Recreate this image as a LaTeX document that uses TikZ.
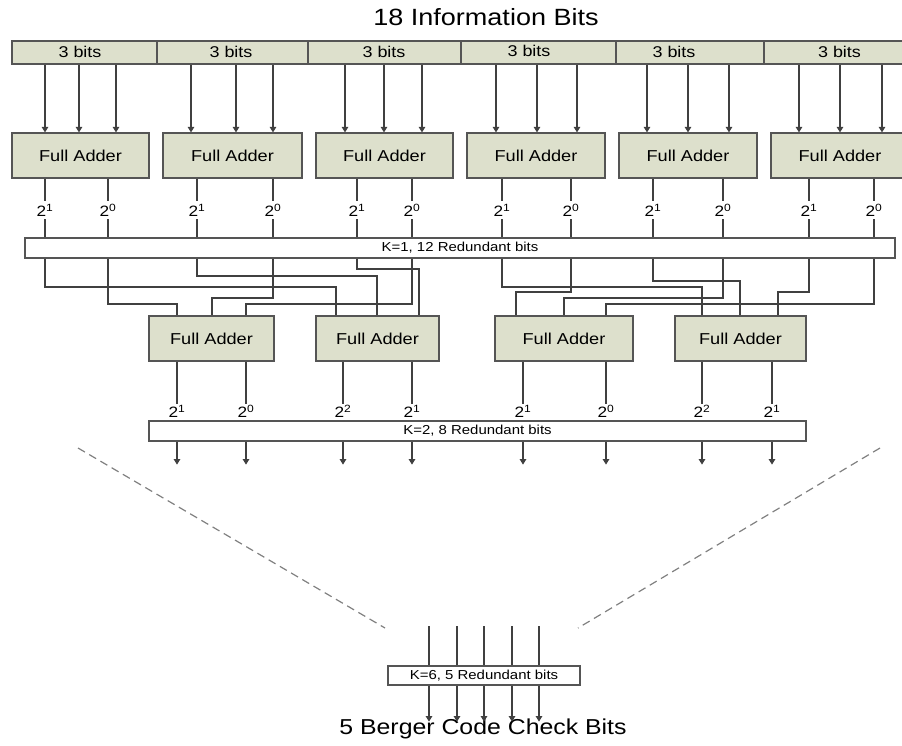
\documentclass[tikz,border=0pt]{standalone}
\usepackage{fontspec}
\setmainfont{Liberation Sans}[FakeStretch=1.15]
\usetikzlibrary{arrows.meta}
\definecolor{wirec}{HTML}{404040}
\definecolor{edgec}{HTML}{555555}
\definecolor{sage}{HTML}{DDE0CC}
\begin{document}
\begin{tikzpicture}[x=1pt,y=-1pt,
  wire/.style={draw=wirec,line width=1.2pt},
  arr/.style={wire,-{Triangle[width=6.5pt,length=5.5pt]}},
  adder/.style={draw=edgec,fill=sage,line width=1.2pt,minimum height=45pt,inner sep=0pt,
    font=\fontsize{15.8}{18}\selectfont},
  seg/.style={draw=edgec,fill=sage,line width=1.2pt,minimum height=23pt,inner sep=0pt},
  segtext/.style={inner sep=0pt,font=\fontsize{15.6}{18}\selectfont},
  bus/.style={draw=edgec,fill=white,line width=1.2pt,minimum height=20pt,inner sep=0pt,
    font=\fontsize{13}{15}\selectfont},
  weight/.style={fill=white,inner xsep=1pt,inner ysep=3pt,font=\fontsize{15}{17}\selectfont},
  guide/.style={draw=gray,line width=1.2pt,dash pattern=on 8pt off 5pt},
  title/.style={inner sep=0pt,font=\fontsize{23.5}{26}\selectfont}
]
\useasboundingbox (0,0) rectangle (902,745);

% ---- titles ----
\node[title] (top) at (486,17) {18 Information Bits};
\node[title,font=\fontsize{21.6}{26}\selectfont] (bottom) at (483,729) {5 Berger Code Check Bits};

% ---- information word split into six 3-bit groups ----
\node[seg,minimum width=145pt] (s1) at (84.5,52.5) {};
\node[seg,minimum width=151pt] (s2) at (232.5,52.5) {};
\node[seg,minimum width=153pt] (s3) at (384.5,52.5) {};
\node[seg,minimum width=155pt] (s4) at (538.5,52.5) {};
\node[seg,minimum width=148pt] (s5) at (690,52.5) {};
\node[seg,minimum width=152pt] (s6) at (840,52.5) {};
\node[segtext] (t1) at (80,52) {3 bits};
\node[segtext] (t2) at (231,52) {3 bits};
\node[segtext] (t3) at (384,52) {3 bits};
\node[segtext] (t4) at (529,51) {3 bits};
\node[segtext] (t5) at (674,52) {3 bits};
\node[segtext] (t6) at (839.5,52) {3 bits};

% ---- first level of full adders ----
\node[adder,minimum width=137pt] (fa1) at (80.5,155.5) {Full Adder};
\node[adder,minimum width=139pt] (fa2) at (232.5,155.5) {Full Adder};
\node[adder,minimum width=137pt] (fa3) at (384.5,155.5) {Full Adder};
\node[adder,minimum width=138pt] (fa4) at (536,155.5) {Full Adder};
\node[adder,minimum width=138pt] (fa5) at (688,155.5) {Full Adder};
\node[adder,minimum width=138pt] (fa6) at (840,155.5) {Full Adder};

\foreach \s/\f/\a/\b/\c in {s1/fa1/45/79/116, s2/fa2/191/236/273, s3/fa3/345/384/422,
                             s4/fa4/496/537/577, s5/fa5/647/688/729, s6/fa6/799/840/882}{
  \foreach \x in {\a,\b,\c}
    \draw[arr] (\s.south -| \x,0) -- (\f.north -| \x,0);
}

% ---- K=1 bus ----
\node[bus,minimum width=870pt] (k1) at (460,248) {K=1, 12 Redundant bits};

\foreach \f/\a/\b in {fa1/45/108, fa2/197/273, fa3/357/412, fa4/502/571, fa5/653/723, fa6/809/874}{
  \draw[wire] (\f.south -| \a,0) -- (k1.north -| \a,0);
  \draw[wire] (\f.south -| \b,0) -- (k1.north -| \b,0);
  \node[weight] (w\f a) at (\a,210) {2\textsuperscript{1}};
  \node[weight] (w\f b) at (\b,210) {2\textsuperscript{0}};
}

% ---- second level of full adders ----
\node[adder,minimum width=125pt] (g1) at (211.5,338.5) {Full Adder};
\node[adder,minimum width=123pt] (g2) at (377.5,338.5) {Full Adder};
\node[adder,minimum width=138pt] (g3) at (564,338.5) {Full Adder};
\node[adder,minimum width=131pt] (g4) at (740.5,338.5) {Full Adder};

% wiring from the K=1 bus to the second level
\draw[wire] (k1.south -| 45,0)  |- (336,287) -- (g2.north -| 336,0);
\draw[wire] (k1.south -| 108,0) |- (177,304) -- (g1.north -| 177,0);
\draw[wire] (k1.south -| 197,0) |- (377,276) -- (g2.north -| 377,0);
\draw[wire] (k1.south -| 273,0) |- (212,298) -- (g1.north -| 212,0);
\draw[wire] (k1.south -| 357,0) |- (419,269) -- (g2.north -| 419,0);
\draw[wire] (k1.south -| 412,0) |- (246,304) -- (g1.north -| 246,0);
\draw[wire] (k1.south -| 502,0) |- (702,287) -- (g4.north -| 702,0);
\draw[wire] (k1.south -| 571,0) |- (516,292) -- (g3.north -| 516,0);
\draw[wire] (k1.south -| 653,0) |- (740,281) -- (g4.north -| 740,0);
\draw[wire] (k1.south -| 723,0) |- (564,298) -- (g3.north -| 564,0);
\draw[wire] (k1.south -| 809,0) |- (778,292) -- (g4.north -| 778,0);
\draw[wire] (k1.south -| 874,0) |- (606,304) -- (g3.north -| 606,0);

% ---- K=2 bus ----
\node[bus,minimum width=657pt] (k2) at (477.5,431) {K=2, 8 Redundant bits};

\foreach \g/\x/\e/\n in {g1/177/1/a, g1/246/0/b, g2/343/2/a, g2/412/1/b,
                         g3/523/1/a, g3/606/0/b, g4/702/2/a, g4/772/1/b}{
  \node[weight,fill=none,inner ysep=1pt] (v\g\n) at (\x,411) {2\textsuperscript{\e}};
  \draw[wire] (\g.south -| \x,0) -- (v\g\n.north);
  \draw[arr] (k2.south -| \x,0) -- ++(0,23);
}

% ---- omitted levels ----
\coordinate (l0) at (78,448);
\coordinate (l1) at (385,628);
\coordinate (r0) at (880,448);
\coordinate (r1) at (578,628);
\draw[guide] (l0) -- (l1);
\draw[guide] (r0) -- (r1);

% ---- K=6 bus ----
\node[bus,minimum width=192pt,minimum height=19pt] (k6) at (484,675.5) {K=6, 5 Redundant bits};
\foreach \x in {429,457,484,512,539}{
  \draw[wire] (\x,626) -- (k6.north -| \x,0);
  \draw[arr] (k6.south -| \x,0) -- ++(0,36);
}
\end{tikzpicture}
\end{document}
